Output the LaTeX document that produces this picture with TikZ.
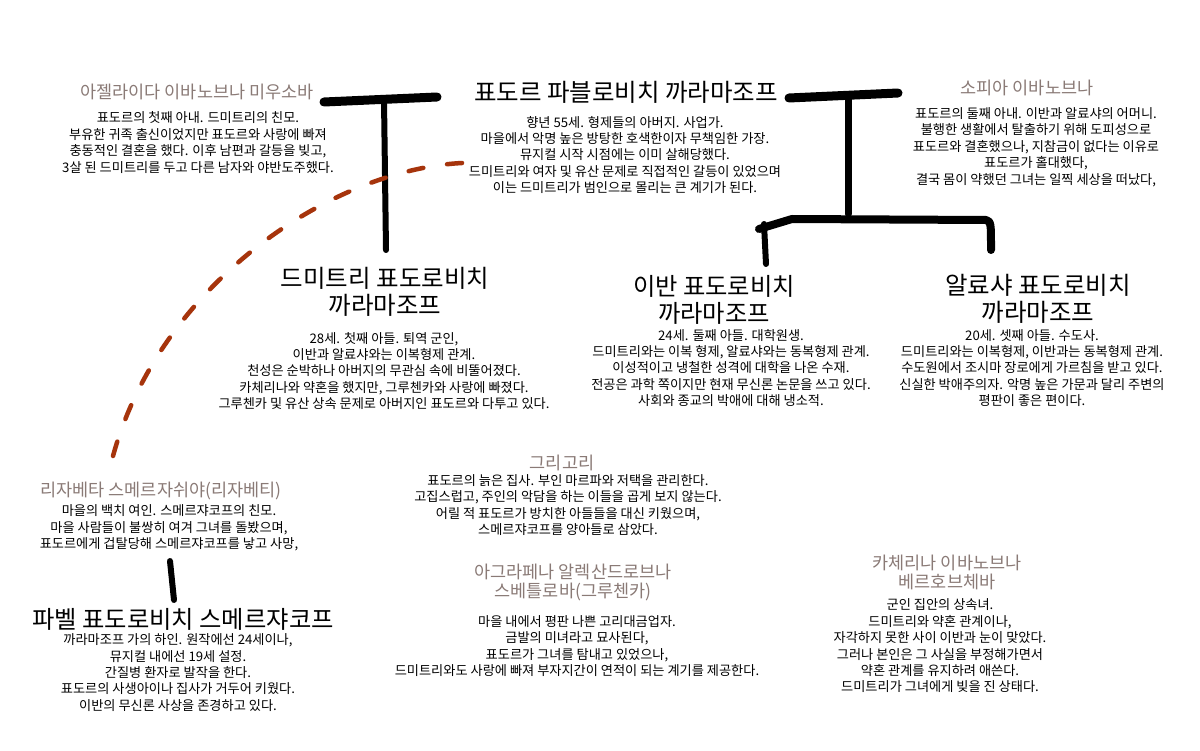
\documentclass[tikz,border=0pt]{standalone}
\usepackage{fontspec}
\setmainfont{Noto Sans CJK KR}
\definecolor{namegray}{RGB}{138,122,118}
\definecolor{rust}{RGB}{166,52,12}
\tikzset{
  body/.style={align=center, inner sep=0pt, text=black, font=\fontsize{13.2}{16.4}\selectfont},
  pname/.style={align=center, inner sep=0pt, text=namegray, font=\fontsize{17.5}{19}\selectfont},
  ptitle/.style={align=center, inner sep=0pt, text=black, font=\fontsize{#1}{27}\selectfont},
  brush/.style={draw=black, line width=#1, line cap=round, line join=round},
  affair/.style={draw=rust, line width=4.5pt, line cap=round, dash pattern=on 15pt off 24pt}
}
\begin{document}
\begin{tikzpicture}[x=1pt,y=-1pt]
\useasboundingbox (0,0) rectangle (1200,751);
\fill[white] (0,0) rectangle (1200,751);

% brush strokes (family tree)
\coordinate (lt1) at (324,102);
\coordinate (lt2) at (437,97);
\coordinate (ltm) at (384,100);
\coordinate (ltb) at (386,250);
\draw[brush=9pt] (lt1) -- (lt2);
\draw[brush=6pt] (ltm) -- (ltb);

\coordinate (rt1) at (789,98);
\coordinate (rt2) at (898,93);
\coordinate (rtm) at (848,95);
\coordinate (rtb) at (848,214);
\draw[brush=9pt] (rt1) -- (rt2);
\draw[brush=7pt] (rtm) -- (rtb);
\coordinate (cb1) at (759,229);
\coordinate (cb2) at (792,219);
\coordinate (cb3) at (986,220);
\coordinate (cbe) at (991,250);
\draw[brush=8pt] (cb1) -- (cb2) -- (cb3) .. controls (991,222) .. (cbe);
\coordinate (ivtop) at (764,224);
\coordinate (ivbot) at (766,264);
\draw[brush=6pt] (ivtop) -- (ivbot);

\coordinate (pvtop) at (170,561);
\coordinate (pvbot) at (174,600);
\draw[brush=6pt] (pvtop) -- (pvbot);

% dashed affair line
\coordinate (af1) at (462,163);
\coordinate (af2) at (113,456);
\draw[affair] (af1) .. controls (330,170) and (160,285) .. (af2);

% Adelaida
\node[pname] (adelname) at (197,92) {아젤라이다 이바노브나 미우소바};
\node[body] (adelbody) at (198,142.5) {표도르의 첫째 아내. 드미트리의 친모.\\부유한 귀족 출신이었지만 표도르와 사랑에 빠져\\충동적인 결혼을 했다. 이후 남편과 갈등을 빚고,\\3살 된 드미트리를 두고 다른 남자와 야반도주했다.};

% Fyodor
\node[ptitle=24.5] (fyodor) at (626,92) {표도르 파블로비치 까라마조프};
\node[body] (fyodorbody) at (625,155) {향년 55세. 형제들의 아버지. 사업가.\\마을에서 악명 높은 방탕한 호색한이자 무책임한 가장.\\뮤지컬 시작 시점에는 이미 살해당했다.\\드미트리와 여자 및 유산 문제로 직접적인 갈등이 있었으며\\이는 드미트리가 범인으로 몰리는 큰 계기가 된다.};

% Sofia
\node[pname] (sofianame) at (1027,88) {소피아 이바노브나};
\node[body] (sofiabody) at (1036,147) {표도르의 둘째 아내. 이반과 알료샤의 어머니.\\불행한 생활에서 탈출하기 위해 도피성으로\\표도르와 결혼했으나, 지참금이 없다는 이유로\\표도르가 홀대했다,\\결국 몸이 약했던 그녀는 일찍 세상을 떠났다,};

% Dmitri
\node[ptitle=24.5] (dmitri) at (385,292) {드미트리 표도로비치\\까라마조프};
\node[body] (dmitribody) at (384,371) {28세. 첫째 아들. 퇴역 군인,\\이반과 알료샤와는 이복형제 관계.\\천성은 순박하나 아버지의 무관심 속에 비뚤어졌다.\\카체리나와 약혼을 했지만, 그루첸카와 사랑에 빠졌다.\\그루첸카 및 유산 상속 문제로 아버지인 표도르와 다투고 있다.};

% Ivan
\node[ptitle=24.3] (ivan) at (714,300) {이반 표도로비치\\까라마조프};
\node[body] (ivanbody) at (731,368) {24세. 둘째 아들. 대학원생.\\드미트리와는 이복 형제, 알료샤와는 동복형제 관계.\\이성적이고 냉철한 성격에 대학을 나온 수재.\\전공은 과학 쪽이지만 현재 무신론 논문을 쓰고 있다.\\사회와 종교의 박애에 대해 냉소적.};

% Alyosha
\node[ptitle=24.5] (alyosha) at (1038,299) {알료샤 표도로비치\\까라마조프};
\node[body] (alyoshabody) at (1032,368) {20세. 셋째 아들. 수도사.\\드미트리와는 이복형제, 이반과는 동복형제 관계.\\수도원에서 조시마 장로에게 가르침을 받고 있다.\\신실한 박애주의자. 악명 높은 가문과 달리 주변의\\평판이 좋은 편이다.};

% Lizaveta
\node[pname] (lizname) at (161,491) {리자베타 스메르자쉬야(리자베티)};
\node[body] (lizbody) at (169,528) {마을의 백치 여인. 스메르쟈코프의 친모.\\마을 사람들이 불쌍히 여겨 그녀를 돌봤으며,\\표도르에게 겁탈당해 스메르쟈코프를 낳고 사망,};

% Grigory
\node[pname] (grigname) at (562,463) {그리고리};
\node[body] (grigbody) at (568,505) {표도르의 늙은 집사. 부인 마르파와 저택을 관리한다.\\고집스럽고, 주인의 악담을 하는 이들을 곱게 보지 않는다.\\어릴 적 표도르가 방치한 아들들을 대신 키웠으며,\\스메르쟈코프를 양아들로 삼았다.};

% Agrafena
\node[pname] (agrname) at (573,582.5) {아그라페나 알렉산드로브나\\스베틀로바(그루첸카)};
\node[body] (agrbody) at (577,646) {마을 내에서 평판 나쁜 고리대금업자.\\금발의 미녀라고 묘사된다,\\표도르가 그녀를 탐내고 있었으나,\\드미트리와도 사랑에 빠져 부자지간이 연적이 되는 계기를 제공한다.};

% Katerina
\node[pname] (katname) at (947,572.5) {카체리나 이바노브나\\베르호브체바};
\node[body] (katbody) at (940,646) {군인 집안의 상속녀.\\드미트리와 약혼 관계이나,\\자각하지 못한 사이 이반과 눈이 맞았다.\\그러나 본인은 그 사실을 부정해가면서\\약혼 관계를 유지하려 애쓴다.\\드미트리가 그녀에게 빚을 진 상태다.};

% Pavel
\node[ptitle=24.3] (pavel) at (183,619) {파벨 표도로비치 스메르쟈코프};
\node[body] (pavelbody) at (178,672.5) {까라마조프 가의 하인. 원작에선 24세이나,\\뮤지컬 내에선 19세 설정.\\간질병 환자로 발작을 한다.\\표도르의 사생아이나 집사가 거두어 키웠다.\\이반의 무신론 사상을 존경하고 있다.};
\end{tikzpicture}
\end{document}
